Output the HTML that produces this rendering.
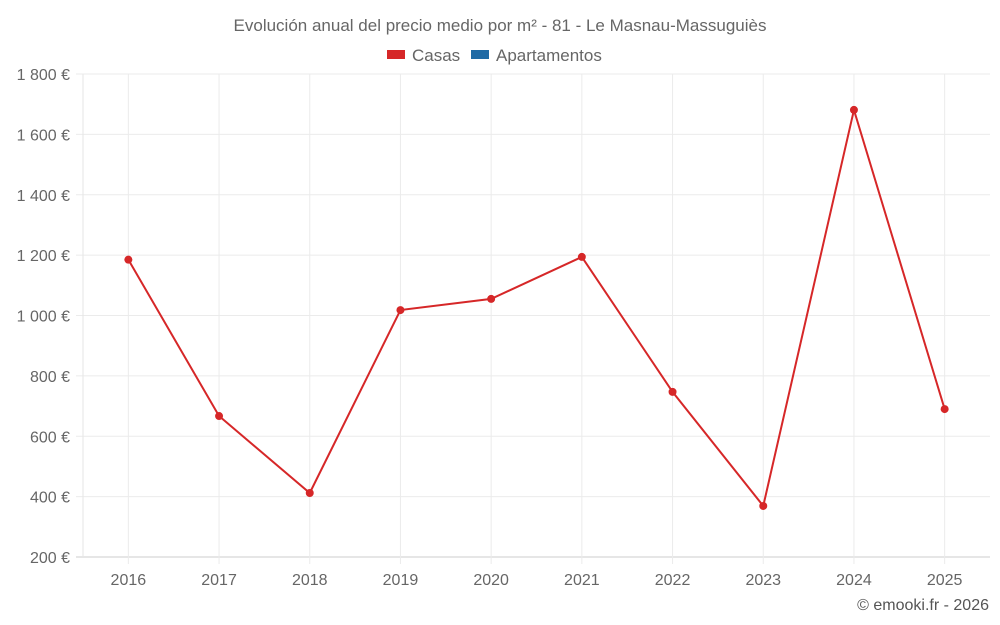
<!DOCTYPE html>
<html><head><meta charset="utf-8"><style>
body{margin:0;background:#fff;font-family:"Liberation Sans",sans-serif;}
svg{display:block}
</style></head><body>
<svg id="chart" width="1000" height="625" xmlns="http://www.w3.org/2000/svg">
<text x="500" y="31" text-anchor="middle" font-size="17" fill="#666">Evolución anual del precio medio por m² - 81 - Le Masnau-Massuguiès</text>
<g>
<g><rect x="387" y="50" width="18" height="9" fill="#d62728"/><text x="412" y="61" font-size="17" fill="#666">Casas</text></g>
<g><rect x="471" y="50" width="18" height="9" fill="#1f6aa5"/><text x="496" y="61" font-size="17" fill="#666">Apartamentos</text></g>
</g>
<g id="grid"></g>
<g id="axes"></g>
<g id="series"></g>
<text x="989" y="610" text-anchor="end" font-size="16" fill="#555">© emooki.fr - 2026</text>
</svg>
<script>
const years = ['2016','2017','2018','2019','2020','2021','2022','2023','2024','2025'];
const casas = [1185, 667, 412, 1018, 1055, 1194, 747, 369, 1681, 690];
const yTicks = [200,400,600,800,1000,1200,1400,1600,1800];
const yTickLabels = ['200 €','400 €','600 €','800 €','1 000 €','1 200 €','1 400 €','1 600 €','1 800 €'];
const NS='http://www.w3.org/2000/svg';
const L=83,R=990,T=74,B=557,yMin=200,yMax=1800;
const step=(R-L)/years.length;
function x(i){return L+step*(i+0.5);}
function y(v){return B-(v-yMin)/(yMax-yMin)*(B-T);}
function mk(tag,attrs,parent){const e=document.createElementNS(NS,tag);for(const k in attrs)e.setAttribute(k,attrs[k]);parent.appendChild(e);return e;}
const grid=document.getElementById('grid'),axes=document.getElementById('axes'),series=document.getElementById('series');
yTicks.forEach((t,i)=>{
  const gl=mk('line',{x1:76,x2:R,y1:y(t),y2:y(t),stroke:i===0?'#ccc':'#ebebeb','stroke-width':1},grid);
  
  
  const tx=mk('text',{x:70,y:y(t)+6,'text-anchor':'end','font-size':16,fill:'#666'},axes);
  tx.textContent=yTickLabels[i];
  
  
});
const ax=mk('line',{x1:L,x2:L,y1:T,y2:B,stroke:'#e6e6e6'},grid);


years.forEach((yr,i)=>{
  const gl=mk('line',{x1:x(i),x2:x(i),y1:T,y2:B+7,stroke:'#ebebeb'},grid);
  
  
  const tx=mk('text',{x:x(i),y:585,'text-anchor':'middle','font-size':16,fill:'#666'},axes);
  tx.textContent=yr;
  
  
});
const pl=mk('polyline',{points:casas.map((v,i)=>x(i)+','+y(v)).join(' '),fill:'none',stroke:'#d62728','stroke-width':2},series);


casas.forEach((v,i)=>{
  const c=mk('circle',{cx:x(i),cy:y(v),r:4,fill:'#d62728'},series);
  
  
});
</script>
</body></html>
